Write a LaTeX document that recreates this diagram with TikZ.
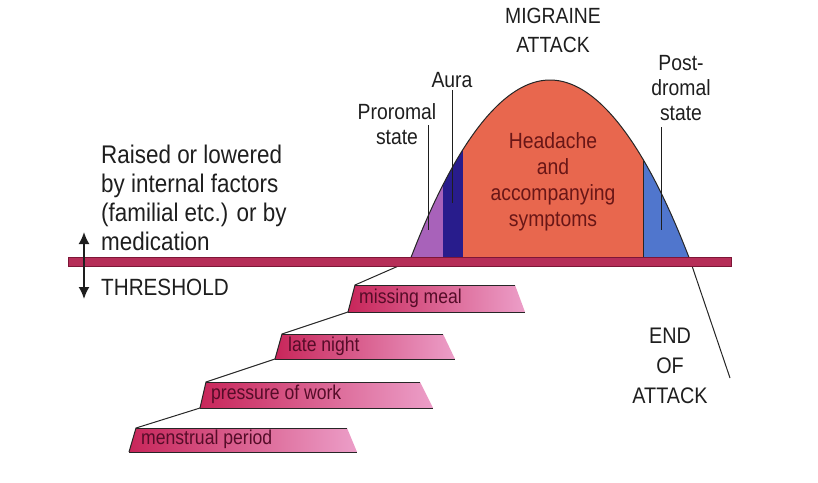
\documentclass[tikz,border=0pt]{standalone}
\usepackage{fontspec}
\setmainfont{Liberation Sans}[FakeStretch=0.88]
\usetikzlibrary{arrows.meta,positioning}

\definecolor{barred}{RGB}{182,46,88}
\definecolor{baredge}{RGB}{125,22,55}
\definecolor{stepdark}{RGB}{200,38,90}
\definecolor{steplight}{RGB}{236,158,200}
\definecolor{prodromal}{RGB}{168,98,186}
\definecolor{aura}{RGB}{40,28,140}
\definecolor{headache}{RGB}{232,103,78}
\definecolor{postdromal}{RGB}{80,118,205}
\definecolor{inkgray}{RGB}{30,30,30}
\definecolor{headink}{RGB}{105,22,22}
\definecolor{stepink}{RGB}{85,12,40}

\begin{document}
\begin{tikzpicture}[x=1pt, y=-1pt,
  txt/.style={text=inkgray, font=\fontsize{22}{25}\selectfont, align=center, inner sep=0pt},
  stepfill/.style={left color=stepdark, right color=steplight},
  steplabel/.style={text=stepink, font=\fontsize{20}{22}\selectfont, anchor=west, inner sep=0pt},
  outline/.style={line width=1pt, draw=black!85},
  leader/.style={line width=0.8pt, draw=inkgray}]

  \useasboundingbox (0,0) rectangle (818,482);

  % Attack curve
  \begin{scope}
    \clip (410,260) parabola bend (550,80) (690,260) -- cycle;
    \fill[prodromal] (400,60) rectangle (443,266);
    \fill[aura] (443,60) rectangle (463,266);
    \fill[headache] (463,60) rectangle (643,266);
    \fill[postdromal] (643,60) rectangle (700,266);
    \draw[outline] (643,60) -- (643,266);
  \end{scope}
  \coordinate (endline) at (730,378);
  \draw[outline] (410,260) parabola bend (550,80) (690,260) -- (endline);

  % Steps
  \coordinate (mp-bl) at (129,452); \coordinate (mp-tl) at (136,428);
  \coordinate (mp-tr) at (347,428); \coordinate (mp-br) at (357,452);
  \coordinate (pw-bl) at (200,408); \coordinate (pw-tl) at (206,382);
  \coordinate (pw-tr) at (420,382); \coordinate (pw-br) at (433,408);
  \coordinate (ln-bl) at (275,359); \coordinate (ln-tl) at (282,334);
  \coordinate (ln-tr) at (443,334); \coordinate (ln-br) at (455,359);
  \coordinate (mm-bl) at (348,312); \coordinate (mm-tl) at (355,285);
  \coordinate (mm-tr) at (515,285); \coordinate (mm-br) at (525,312);

  \shade[stepfill] (mp-bl) -- (mp-tl) -- (mp-tr) -- (mp-br) -- cycle;
  \shade[stepfill] (pw-bl) -- (pw-tl) -- (pw-tr) -- (pw-br) -- cycle;
  \shade[stepfill] (ln-bl) -- (ln-tl) -- (ln-tr) -- (ln-br) -- cycle;
  \shade[stepfill] (mm-bl) -- (mm-tl) -- (mm-tr) -- (mm-br) -- cycle;

  \draw[outline] (mp-tl) -- (mp-tr) (mp-bl) -- (mp-br);
  \draw[outline] (pw-tl) -- (pw-tr) (pw-bl) -- (pw-br);
  \draw[outline] (ln-tl) -- (ln-tr) (ln-bl) -- (ln-br);
  \draw[outline] (mm-tl) -- (mm-tr) (mm-bl) -- (mm-br);

  \node[steplabel] (mp) at (141,439) {menstrual period};
  \node[steplabel] (pw) at (211,394) {pressure of work};
  \node[steplabel] (ln) at (288,346) {late night};
  \node[steplabel] (mm) at (359,298) {missing meal};

  % Staircase line
  \coordinate (foot) at (403,264);
  \draw[outline] (mp-bl) -- (mp-tl) -- (pw-bl) -- (pw-tl) -- (ln-bl) -- (ln-tl)
    -- (mm-bl) -- (mm-tl) -- (foot);

  % Threshold bar
  \node[fill=barred, draw=baredge, line width=0.6pt, minimum width=663pt,
    minimum height=9pt, inner sep=0pt] (bar) at (399.5,261.5) {};

  % Labels
  \node[txt, font=\fontsize{22}{29}\selectfont] (migraine) at (553,30) {MIGRAINE\\ATTACK};
  \node[txt] (aura) at (452,80) {Aura};
  \node[txt] (proromal) at (397,124) {Proromal\\state};
  \node[txt] (postdromal) at (681,88) {Post-\\dromal\\state};
  \node[txt, text=headink, font=\fontsize{22}{26}\selectfont] (headache) at (553,182)
    {Headache\\and\\accompanying\\symptoms};
  \node[txt, align=left, anchor=north west, font=\fontsize{25.5}{29}\selectfont] (raised)
    at (101,145) {Raised or lowered\\by internal factors\\(familial etc.) or by\\medication};
  \node[txt, anchor=west, font=\fontsize{23.5}{28}\selectfont] (threshold) at (101,287) {THRESHOLD};
  \node[txt, font=\fontsize{22.5}{30}\selectfont] (endattack) at (670,366) {END\\OF\\ATTACK};

  % Leader lines
  \coordinate (pro-top) at (428,125); \coordinate (pro-bot) at (428,230);
  \coordinate (aura-bot) at (452,203);
  \coordinate (post-top) at (661,127); \coordinate (post-bot) at (661,230);
  \draw[leader] (pro-top) -- (pro-bot);
  \draw[leader] ([yshift=-2pt]aura.south) -- (aura-bot);
  \draw[leader] (post-top) -- (post-bot);

  % Up/down arrow
  \coordinate (adj-up) at (84,232);
  \coordinate (adj-down) at (84,299);
  \draw[{Latex[length=12pt,width=11pt]}-{Latex[length=12pt,width=11pt]}, line width=1.8pt,
    inkgray] (adj-up) -- (adj-down);

\end{tikzpicture}
\end{document}
